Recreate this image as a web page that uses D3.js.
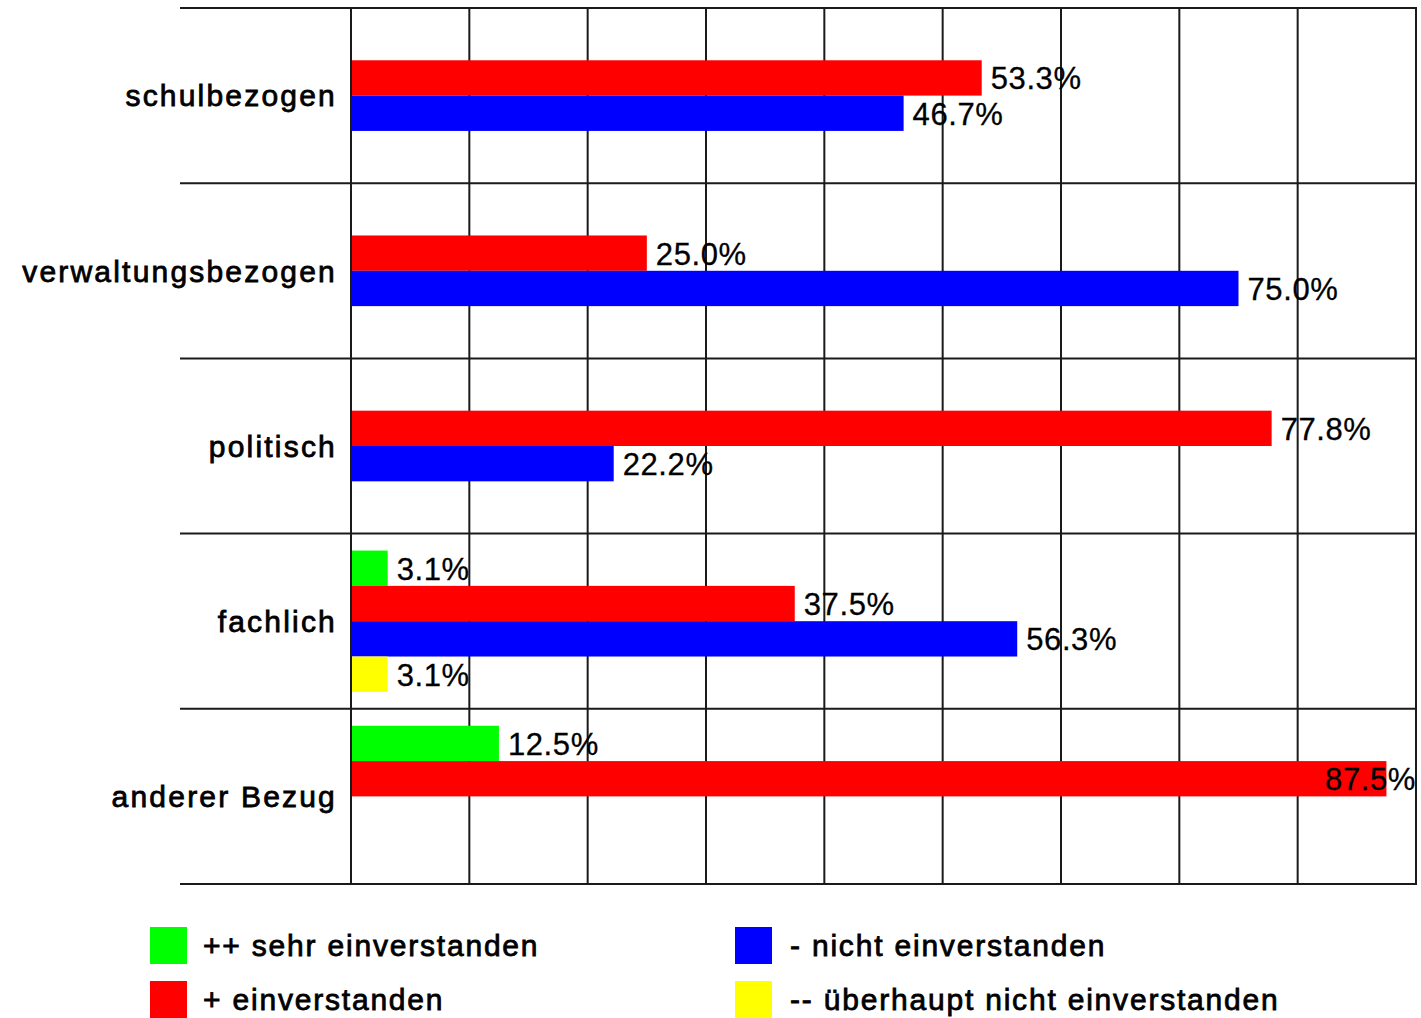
<!DOCTYPE html>
<html>
<head>
<meta charset="utf-8">
<script src="https://cdn.jsdelivr.net/npm/d3@7"></script>
<style>
  body { margin: 0; background: #fff; }
  text { font-family: "Liberation Sans", Arial, sans-serif; fill: #000; }
</style>
</head>
<body>
<div id="chart"></div>
<script>
// data
var categories = ["schulbezogen", "verwaltungsbezogen", "politisch", "fachlich", "anderer Bezug"];
var seriesNames = ["++ sehr einverstanden", "+ einverstanden", "- nicht einverstanden", "-- überhaupt nicht einverstanden"];
var seriesColors = ["#00ff00", "#ff0000", "#0000ff", "#ffff00"];
var sehrEinverstanden = [0, 0, 0, 3.1, 12.5];
var einverstanden = [53.3, 25.0, 77.8, 37.5, 87.5];
var nichtEinverstanden = [46.7, 75.0, 22.2, 56.3, 0];
var ueberhauptNicht = [0, 0, 0, 3.1, 0];
var xTicks = [0, 10, 20, 30, 40, 50, 60, 70, 80, 90];

var allSeries = [sehrEinverstanden, einverstanden, nichtEinverstanden, ueberhauptNicht];

(function () {
  var width = 1421, height = 1018;
  var plot = { left: 351, right: 1416, top: 8, bottom: 884, lineStart: 180 };

  var svg = d3.select('#chart')
    .append('svg')
    .attr('width', width)
    .attr('height', height);

  var x = d3.scaleLinear()
    .domain([0, 90])
    .range([plot.left, plot.right]);

  var y = d3.scaleBand()
    .domain(categories)
    .range([plot.top, plot.bottom])
    .paddingInner(0)
    .paddingOuter(0);

  var ySeries = d3.scaleBand()
    .domain(d3.range(seriesNames.length))
    .range([0, y.bandwidth()])
    .paddingInner(0)
    .paddingOuter(0.48);

  // grid
  var grid = svg.append('g').attr('stroke', '#1a1a1a').attr('stroke-width', 2);
  grid.selectAll('line.v')
    .data(xTicks)
    .enter().append('line')
    .attr('class', 'v')
    .attr('x1', function (d) { return x(d); })
    .attr('x2', function (d) { return x(d); })
    .attr('y1', plot.top)
    .attr('y2', plot.bottom);

  var hLines = categories.map(function (c) { return y(c); }).concat([plot.bottom]);
  grid.selectAll('line.h')
    .data(hLines)
    .enter().append('line')
    .attr('class', 'h')
    .attr('x1', plot.lineStart)
    .attr('x2', plot.right + 1)
    .attr('y1', function (d) { return d; })
    .attr('y2', function (d) { return d; });

  // bars
  var rows = [];
  categories.forEach(function (c, i) {
    allSeries.forEach(function (s, j) {
      if (s[i] > 0) rows.push({ cat: c, s: j, v: s[i] });
    });
  });

  svg.append('g').selectAll('rect')
    .data(rows)
    .enter().append('rect')
    .attr('x', x(0) + 1)
    .attr('y', function (d) { return y(d.cat) + ySeries(d.s); })
    .attr('width', function (d) { return x(d.v) - x(0) - 1; })
    .attr('height', ySeries.bandwidth())
    .attr('fill', function (d) { return seriesColors[d.s]; });

  // value labels
  var labels = svg.append('g').selectAll('text')
    .data(rows)
    .enter().append('text')
    .attr('y', function (d) { return y(d.cat) + ySeries(d.s) + ySeries.bandwidth() / 2; })
    .attr('dy', '0.37em')
    .style('font-size', '31px')
    .style('letter-spacing', '0.6px')
    .style('stroke', '#000')
    .style('stroke-width', '0.3px')
    .text(function (d) { return d.v.toFixed(1) + '%'; });

  labels.each(function (d) {
    var w = this.getComputedTextLength();
    var tx = Math.min(x(d.v) + 9, plot.right - w);
    d3.select(this).attr('x', tx);
  });

  // category labels
  svg.append('g').selectAll('text')
    .data(categories)
    .enter().append('text')
    .attr('x', 337)
    .attr('y', function (d) { return y(d) + y.bandwidth() / 2; })
    .attr('dy', '0.36em')
    .attr('text-anchor', 'end')
    .style('font-size', '30px')
    .style('letter-spacing', '2.2px')
    .style('stroke', '#000')
    .style('stroke-width', '0.8px')
    .text(function (d) { return d; });

  // legend
  var legendPos = [[150, 927], [150, 981], [735, 927], [735, 981]];
  var legend = svg.append('g').selectAll('g')
    .data(seriesNames)
    .enter().append('g')
    .attr('transform', function (d, i) { return 'translate(' + legendPos[i][0] + ',' + legendPos[i][1] + ')'; });

  legend.append('rect')
    .attr('width', 37)
    .attr('height', 37)
    .attr('fill', function (d, i) { return seriesColors[i]; });

  legend.append('text')
    .attr('x', function (d, i) { return i < 2 ? 53 : 55; })
    .attr('y', 29)
    .style('font-size', '30px')
    .style('letter-spacing', '1.8px')
    .style('stroke', '#000')
    .style('stroke-width', '0.8px')
    .text(function (d) { return d; });
})();
</script>
</body>
</html>
